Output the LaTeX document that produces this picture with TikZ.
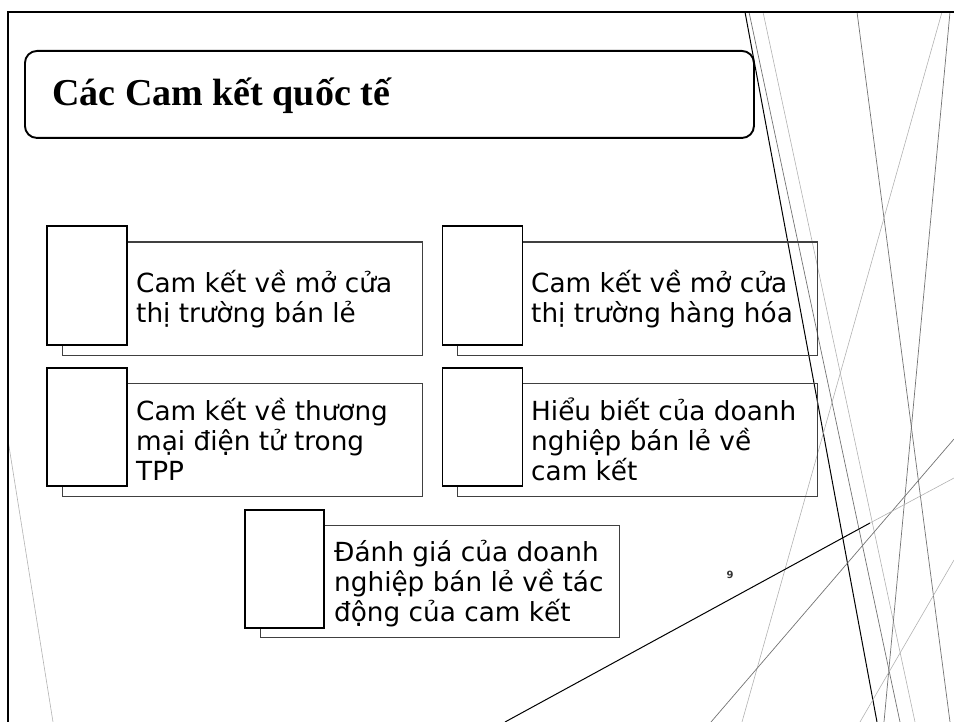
\documentclass[tikz,border=0pt]{standalone}
\usepackage{fontspec}
\setmainfont{DejaVu Sans}
\newfontfamily\titlefont{Liberation Serif}
\newfontfamily\numfont{DejaVu Sans}
\begin{document}
\begin{tikzpicture}[x=1pt,y=-1pt,
  frontbox/.style={draw=black, fill=white, line width=1.9pt, anchor=north west, inner sep=0pt, minimum width=80pt, minimum height=119pt},
  backbox/.style={draw=black!75, line width=1.3pt, anchor=north west, inner sep=0pt, minimum width=360pt, minimum height=113.5pt},
  itemtext/.style={anchor=base west, inner sep=0pt, font=\fontsize{26.3}{30}\selectfont},
  decodark/.style={draw=black, line width=1pt},
  decomid/.style={draw=black!55, line width=0.7pt},
  decolight/.style={draw=black!30, line width=0.6pt},
  framebar/.style={draw=black, line width=2pt}
]
\useasboundingbox (0,0) rectangle (954,722);
\begin{scope}
\clip (8,12) rectangle (954,722);
% decorative lines
\draw[decodark] (745,12) -- (877,722);
\draw[decomid] (749,12) -- (900,722);
\draw[decolight] (763,12) -- (915,722);
\draw[decomid] (857,12) -- (950,722);
\draw[decomid] (950,12) -- (884,722);
\draw[decolight] (942,12) -- (742,722);
\draw[decolight] (860,722) -- (954,560);
\draw[decomid] (711,722) -- (954,439);
\draw[decodark] (505,722) -- (870,523);
\draw[decolight] (870,523) -- (954,478);
\draw[decolight] (8,440) -- (53,722);
\end{scope}
% frame
\draw[framebar] (8,723) -- (8,12) -- (955,12);
% title
\node[draw=black, line width=1.9pt, rounded corners=12pt, anchor=north west, minimum width=729pt, minimum height=87pt, inner sep=0pt] (title) at (24,50) {};
\node[anchor=base west, inner sep=0pt, font=\titlefont\bfseries\fontsize{38}{44}\selectfont] (titletext) at (52,106) {Các Cam kết quốc tế};
% boxes
\node[backbox] (b1) at (61.5,241.5) {};
\node[frontbox] (f1) at (46,225) {};
\node[itemtext] (t1) at (136,293) {\vtop{\hbox{Cam kết về mở cửa}\hbox{thị trường bán lẻ}}};

\node[backbox] (b2) at (457,241.5) {};
\node[frontbox] (f2) at (441.5,225) {};
\node[itemtext] (t2) at (531,293) {\vtop{\hbox{Cam kết về mở cửa}\hbox{thị trường hàng hóa}}};

\node[backbox, minimum height=113pt] (b3) at (61.5,383) {};
\node[frontbox, minimum height=118pt] (f3) at (46,367) {};
\node[itemtext] (t3) at (136,420) {\vtop{\hbox{Cam kết về thương}\hbox{mại điện tử trong}\hbox{TPP}}};

\node[backbox, minimum height=113pt] (b4) at (457,383) {};
\node[frontbox, minimum height=118pt] (f4) at (441.5,367) {};
\node[itemtext] (t4) at (531,420) {\vtop{\hbox{Hiểu biết của doanh}\hbox{nghiệp bán lẻ về}\hbox{cam kết}}};

\node[backbox, minimum width=359pt, minimum height=112.5pt] (b5) at (260,524.5) {};
\node[frontbox, minimum width=79pt, minimum height=118pt] (f5) at (244,509) {};
\node[itemtext] (t5) at (334,561) {\vtop{\hbox{Đánh giá của doanh}\hbox{nghiệp bán lẻ về tác}\hbox{động của cam kết}}};
% page number
\node[anchor=base, inner sep=0pt, text=black!80, font=\numfont\bfseries\fontsize{10}{12}\selectfont] (pnum) at (730,578) {9};
\end{tikzpicture}
\end{document}
